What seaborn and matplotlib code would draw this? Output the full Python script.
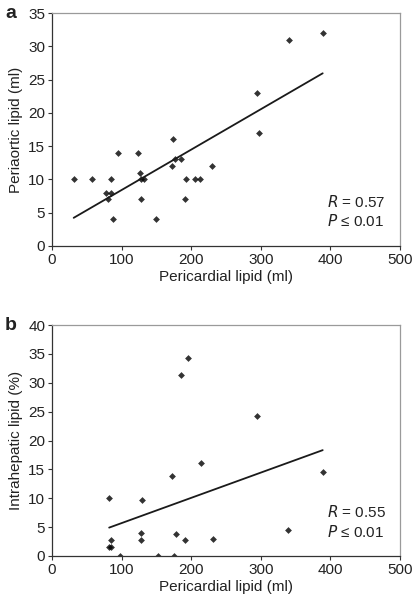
import matplotlib
matplotlib.use("Agg")
import matplotlib.pyplot as plt
import seaborn as sns
import pandas as pd

# panel a: pericardial vs periaortic lipid
peri_a = [31, 57, 84, 77, 84, 80, 88, 95, 124, 127, 128, 132, 128, 150,
          174, 172, 177, 185, 193, 205, 213, 191, 230, 298, 295, 340, 389]
aortic = [10, 10, 10, 8, 8, 7, 4, 14, 14, 11, 10, 10, 7, 4,
          16, 12, 13, 13, 10, 10, 10, 7, 12, 17, 23, 31, 32]

# panel b: pericardial vs intrahepatic lipid
peri_b = [82, 84, 84, 82, 97, 129, 128, 128, 152, 172, 175, 178, 191,
          214, 231, 339, 389, 185, 195, 295]
hepatic = [10, 2.8, 1.5, 1.5, 0, 9.7, 3.9, 2.7, 0, 13.9, 0, 3.8, 2.8,
           16.1, 3.0, 4.5, 14.6, 31.4, 34.3, 24.3]

df_a = pd.DataFrame({"peri": peri_a, "val": aortic})
df_b = pd.DataFrame({"peri": peri_b, "val": hepatic})

sns.set_style("white")
plt.rcParams['font.family'] = ['Liberation Sans', 'DejaVu Sans']
plt.rcParams['text.color'] = '#222222'

fig = plt.figure(figsize=(4.17, 6.01), dpi=100)
ax1 = fig.add_axes([0.125, 0.591, 0.834, 0.387])
ax2 = fig.add_axes([0.125, 0.075, 0.834, 0.384])

panels = [
    (ax1, df_a, "Periaortic lipid (ml)", 35, 5, "0.57", "a"),
    (ax2, df_b, "Intrahepatic lipid (%)", 40, 5, "0.55", "b"),
]

for ax, d, ylab, ymax, ystep, rval, letter in panels:
    sns.regplot(data=d, x="peri", y="val", ax=ax, ci=None, truncate=True,
                marker="D", color="black",
                scatter_kws={"s": 12, "linewidths": 0},
                line_kws={"color": "#1a1a1a", "linewidth": 1.3})
    ax.set_xlim(0, 500)
    ax.set_ylim(0, ymax)
    ax.set_xticks(range(0, 501, 100))
    ax.set_yticks(range(0, ymax + 1, ystep))
    ax.set_xlabel("Pericardial lipid (ml)", fontsize=11, labelpad=2,
                  color="#222222")
    ax.set_ylabel(ylab, fontsize=11, labelpad=4, color="#222222")
    ax.tick_params(labelsize=11, direction="out", length=3, width=0.8,
                   color="#333333", labelcolor="#222222", pad=2,
                   left=True, bottom=True)
    for side in ["left", "bottom"]:
        ax.spines[side].set_color("#333333")
        ax.spines[side].set_linewidth(0.9)
    for side in ["top", "right"]:
        ax.spines[side].set_color("#9a9a9a")
        ax.spines[side].set_linewidth(0.9)
    ax.text(0.79, 0.19, f"$R$ = {rval}", transform=ax.transAxes,
            fontsize=11, ha="left", va="center")
    ax.text(0.79, 0.105, "$P$ ≤ 0.01", transform=ax.transAxes,
            fontsize=11, ha="left", va="center")
    ax.text(-0.135, 1.0, letter, transform=ax.transAxes, fontsize=14,
            fontweight="bold", ha="left", va="center")

fig.savefig("out.png", dpi=100)
